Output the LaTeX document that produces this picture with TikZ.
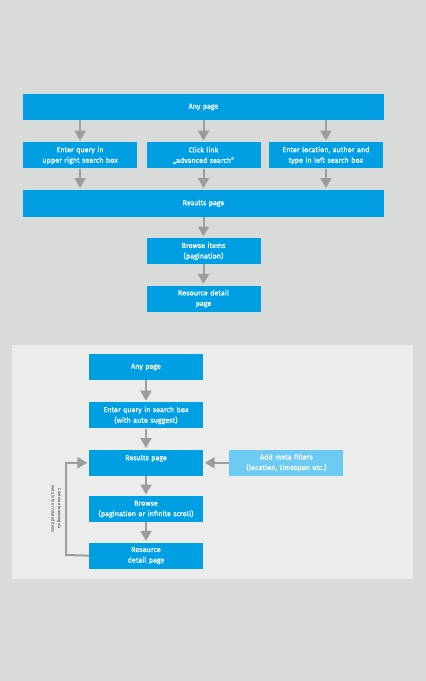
\documentclass[tikz,border=0pt]{standalone}
\usepackage{fontspec}
\setmainfont{Fira Sans}
\newfontfamily\boxfont{Fira Sans}[FakeBold=0.9]
\usetikzlibrary{positioning,arrows.meta}
\definecolor{boxblue}{HTML}{009FE3}
\definecolor{lightblue}{HTML}{6DCAF2}
\definecolor{arrowgray}{HTML}{9D9D9D}
\definecolor{pagegray}{HTML}{D9DBDA}
\definecolor{panelgray}{HTML}{ECECEC}

\begin{document}
\begin{tikzpicture}[x=1pt, y=-1pt, node distance=21pt,
		b/.style={fill=boxblue, text=white, minimum height=26pt, text width=110pt, inner xsep=2pt, inner ysep=0pt, align=center, font=\boxfont\fontsize{7.2}{10.5}\selectfont},
		w/.style={text width=357pt},
		f/.style={fill=lightblue},
		a/.style={-{Triangle[width=11pt, length=10pt]}, line width=2pt, draw=arrowgray, shorten >=1.5pt}]
		\fill[pagegray] (0,0) rectangle (426,681);
		\useasboundingbox (0,0) rectangle (426,681);

		% first flow
		\node[b, w] (anyA) at (203.5,107) {Any page};
		\node[b, below=22pt of anyA] (advA) {Click link\\„advanced search“};
		\node[b, left=9pt of advA] (queryA) {Enter query in\\upper right search box};
		\node[b, right=8pt of advA] (locA) {Enter location, author and\\type in left search box};
		\node[b, w, below=of advA.south -| anyA, anchor=north, minimum height=27pt] (resA) {Results page};
		\node[b, below=of resA.south -| advA, anchor=north] (browseA) {Browse items\\(pagination)};
		\node[b, below=of browseA] (detailA) {Resource detail\\page};

		\draw[a] (anyA.south -| queryA) -- (queryA);
		\draw[a] (anyA.south -| advA) -- (advA);
		\draw[a] (anyA.south -| locA) -- (locA);
		\draw[a] (queryA) -- (queryA |- resA.north);
		\draw[a] (advA) -- (advA |- resA.north);
		\draw[a] (locA) -- (locA |- resA.north);
		\draw[a] (resA.south -| browseA) -- (browseA);
		\draw[a] (browseA) -- (detailA);

		% second flow
		\fill[panelgray] (12,345) rectangle (413,579);
		\node[b] (anyB) at (146,367) {Any page};
		\node[b, below=22pt of anyB] (queryB) {Enter query in search box\\(with auto suggest)};
		\node[b, below=of queryB] (resB) {Results page\\~};
		\node[b, f, right=26pt of resB] (filterB) {Add meta filters\\(location, timespan etc.)};
		\node[b, below=20pt of resB] (browseB) {Browse\\(pagination or infinite scroll)};
		\node[b, below=20pt of browseB] (detailB) {Resource\\detail page};
		\coordinate (loopB) at (66,555);
		\node[rotate=-90, align=center, font=\fontsize{4}{6.5}\selectfont, text=black!85] (loopB_label) at (56.5,509) {Continue browsing via\\meta info or related items};

		\draw[a] (anyB) -- (queryB);
		\draw[a] (queryB) -- (resB);
		\draw[a] (resB) -- (browseB);
		\draw[a] (browseB) -- (detailB);
		\draw[a] (filterB) -- (resB);
		\draw[a] (detailB.west) -- (loopB) |- (resB.west);
	\end{tikzpicture}
\end{document}
